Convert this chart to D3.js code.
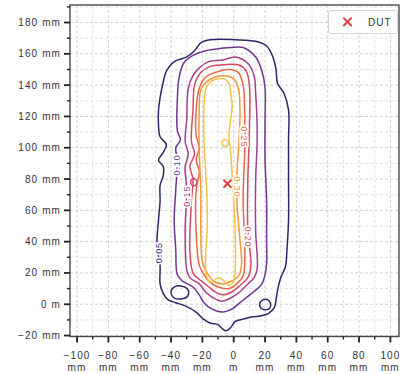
<!DOCTYPE html>
<html>
<head>
<meta charset="utf-8">
<script src="https://cdn.jsdelivr.net/npm/d3@7"></script>
<style>
  html, body { margin: 0; padding: 0; background: #fff; }
  svg { display: block; font-family: "Liberation Sans", Arial, sans-serif; }
</style>
</head>
<body>
<svg id="chart" width="403" height="374"></svg>
<script>
// ---- data (positions in mm) ----
const levels = [0.05, 0.10, 0.15, 0.20, 0.25, 0.30, 0.35];

const xTickValues = [-100, -80, -60, -40, -20, 0, 20, 40, 60, 80, 100];
const xTickLabels = [["−100","mm"],["−80","mm"],["−60","mm"],["−40","mm"],["−20","mm"],
                     ["0","m"],["20","mm"],["40","mm"],["60","mm"],["80","mm"],["100","mm"]];
const yTickValues = [-20, 0, 20, 40, 60, 80, 100, 120, 140, 160, 180];
const yTickLabels = ["−20 mm","0 m","20 mm","40 mm","60 mm","80 mm","100 mm","120 mm","140 mm","160 mm","180 mm"];

const dutPoint = [-4, 77];

// iso-lines of the measured field, one ring per array
const contour005 = [[-47,132],[-45,142],[-43,149],[-38,155],[-30,158],[-25,162],[-21,167],[-15,169],[1,169],[14,168],
  [21,165],[25,158],[27,150],[28,141],[32,135],[35,124],[35,105],[35,79],[35,54],[34,35],[33,24],[30,17],[28,9],[27,3],
  [26,-2],[22,-6],[17,-7.5],[12,-8],[6,-9.5],[1,-11],[-2,-15],[-5,-17],[-8,-15],[-10,-13],[-15,-12],[-20,-9],[-24,-5],
  [-31,-1],[-37,1],[-42,3],[-45,7],[-47,13],[-47,25],[-49,38],[-48,54],[-47,66],[-47,76],[-45,82],[-45,88],[-48,92],
  [-45,97],[-43,102],[-47,107],[-48,114],[-48,124]];
const island005a = [[-40,8],[-38,11],[-33,11.5],[-29,9],[-29.5,5],[-33,3.5],[-38,4]];
const island005b = [[16.5,0],[18,2.5],[21.5,3],[23.5,0.5],[23,-2.5],[20,-3.5],[17.5,-2.5]];

const contour010 = [[-18,162],[-12,163],[-2,164],[6,164],[14,158],[18,149],[20,138],[20,118],[20,92],[21,66],[21,41],
  [21,26],[20,19],[18,13],[14,9],[9,5],[4,1],[-1,-3],[-7,-5],[-14,-3],[-19,1],[-22,6],[-26,11],[-33,15],[-36,19],
  [-37,35],[-38,54],[-37,73],[-36,92],[-37,100],[-34,105],[-36,111],[-36,130],[-35,144],[-32,154],[-26,159]];

const contour015 = [[-7,156],[1,158],[9,154],[13,146],[14,135],[15,108],[14,79],[14,47],[15,23],[13,17],[9,13],[4,8],
  [-2,4],[-8,2],[-13,4],[-18,8],[-22,13],[-28,17],[-30,22],[-31,47],[-30,73],[-31,88],[-29,96],[-31,104],[-30,118],
  [-29,138],[-26,146],[-22,151],[-16,155]];

const contour020 = [[-7,153],[3,153],[8,149],[10,140],[10,111],[9,79],[9,47],[11,25],[9,17],[4,12],[-1,8],[-7,6],[-12,8],
  [-17,12],[-22,16],[-26,20],[-28,35],[-27,66],[-26,80],[-28,88],[-25,96],[-27,104],[-26,124],[-25,140],[-21,148],[-15,152]];
const island020 = [[-27.5,78],[-26.5,80],[-24.5,80],[-23.5,78],[-24.5,76],[-26.5,76]];

const contour025 = [[-12,148],[-3,150],[3,148],[6,140],[7,124],[7,98],[6,66],[7,41],[7,25],[6,18],[2,13],[-3,10],[-10,11],
  [-15,14],[-19,19],[-22,25],[-24,47],[-24,73],[-22,85],[-24,92],[-22,100],[-24,108],[-24,124],[-22,138],[-18,145]];

const contour030 = [[-16,143],[-7,146],[0,144],[3,138],[4,124],[3,98],[2,84],[2,66],[4,41],[5,25],[3,18],[-1,15],[-7,13],
  [-13,15],[-17,20],[-20,27],[-21,47],[-21,73],[-22,98],[-22,124],[-21,137]];

const contour035 = [[-15,142],[-10,144],[-6,144],[-3,141],[-2,135],[-1,127],[-2,118],[-3,108],[-2,98],[-1,82],[0,66],
  [1,41],[1,22],[0,15],[-3,12],[-6,15],[-10,17],[-14,14],[-17,17],[-18,28],[-17,47],[-17,66],[-18,86],[-19,105],
  [-19,124],[-18,137]];
const island035 = [[-7.5,103],[-6.5,105],[-4.5,105],[-3.5,103],[-4.5,101],[-6.5,101]];

// inline level labels: [level index, x, y, rotation]
const labelLevel = [0, 1, 2, 3, 4, 5];
const labelX = [-47.5, -36.5, -30, 9.5, 6.5, 2.5];
const labelY = [33, 89, 69, 43, 107, 75];
const labelRot = [-90, -90, -90, 90, 90, 90];

// ---- style ----
const levelColors = ["#33246a", "#6e3592", "#a53f8c", "#d24a69", "#ec6646", "#f4973c", "#f5c443"];

const ringsByLevel = [
  [contour005, island005a, island005b],
  [contour010],
  [contour015],
  [contour020, island020],
  [contour025],
  [contour030],
  [contour035, island035]
];

const svg = d3.select("#chart");
const plot = { left: 70, right: 399, top: 5, bottom: 336.5 };

const x = d3.scaleLinear().domain([-104.5, 105.5]).range([plot.left, plot.right]);
const y = d3.scaleLinear().domain([-20.6, 191.2]).range([plot.bottom, plot.top]);

svg.append("defs").append("clipPath").attr("id", "clip")
  .append("rect").attr("x", plot.left).attr("y", plot.top)
  .attr("width", plot.right - plot.left).attr("height", plot.bottom - plot.top);

// grid
const grid = svg.append("g").attr("class", "grid");
grid.selectAll("line.gx").data(d3.range(-100, 101, 10)).join("line")
  .attr("x1", d => x(d)).attr("x2", d => x(d))
  .attr("y1", plot.top).attr("y2", plot.bottom)
  .attr("stroke", d => d % 20 === 0 ? "#d2d2d2" : "#e2e2e2")
  .attr("stroke-width", 1).attr("stroke-dasharray", "3,2");
grid.selectAll("line.gy").data(d3.range(-20, 191, 10)).join("line")
  .attr("x1", plot.left).attr("x2", plot.right)
  .attr("y1", d => y(d)).attr("y2", d => y(d))
  .attr("stroke", d => d % 20 === 0 ? "#d2d2d2" : "#e2e2e2")
  .attr("stroke-width", 1).attr("stroke-dasharray", "3,2");

// contour lines
const line = d3.line()
  .x(d => x(d[0])).y(d => y(d[1]))
  .curve(d3.curveCatmullRomClosed.alpha(0.5));

const cg = svg.append("g").attr("clip-path", "url(#clip)");
ringsByLevel.forEach((rings, i) => {
  cg.selectAll(null).data(rings).join("path")
    .attr("d", line)
    .attr("fill", "none")
    .attr("stroke", levelColors[i])
    .attr("stroke-width", 1.5)
    .attr("stroke-linejoin", "round");
});

// contour labels
const fmt = d3.format(".2f");
cg.selectAll("text.clabel").data(labelLevel).join("text")
  .attr("class", "clabel")
  .attr("transform", (d, i) => `translate(${x(labelX[i])},${y(labelY[i])}) rotate(${labelRot[i]})`)
  .attr("text-anchor", "middle")
  .attr("dy", "0.35em")
  .attr("font-size", 9)
  .attr("letter-spacing", 0.9)
  .attr("fill", d => levelColors[d])
  .attr("stroke", "#fff").attr("stroke-width", 3.2)
  .attr("paint-order", "stroke")
  .text(d => fmt(levels[d]));

// DUT marker
function drawCross(g, cx, cy, r) {
  g.append("path")
    .attr("d", `M${cx - r},${cy - r}L${cx + r},${cy + r}M${cx - r},${cy + r}L${cx + r},${cy - r}`)
    .attr("stroke", "#e5383b").attr("stroke-width", 1.8).attr("fill", "none");
}
drawCross(svg.append("g"), x(dutPoint[0]), y(dutPoint[1]), 4);

// frame
svg.append("rect")
  .attr("x", plot.left).attr("y", plot.top)
  .attr("width", plot.right - plot.left).attr("height", plot.bottom - plot.top)
  .attr("fill", "none").attr("stroke", "#4a4a4a").attr("stroke-width", 1.4);

// y axis
const yAxis = svg.append("g").attr("transform", `translate(${plot.left},0)`);
yAxis.selectAll("line.minor").data(d3.range(-10, 191, 20)).join("line")
  .attr("x1", -3).attr("x2", 0).attr("y1", d => y(d)).attr("y2", d => y(d))
  .attr("stroke", "#222").attr("stroke-width", 1.4);
yAxis.selectAll("line.major").data(yTickValues).join("line")
  .attr("x1", -6).attr("x2", 0).attr("y1", d => y(d)).attr("y2", d => y(d))
  .attr("stroke", "#222").attr("stroke-width", 1.8);
yAxis.selectAll("text").data(yTickValues).join("text")
  .attr("x", -9).attr("y", d => y(d)).attr("dy", "0.35em")
  .attr("text-anchor", "end").attr("font-size", 10).attr("letter-spacing", 1.1)
  .attr("fill", "#333")
  .text((d, i) => yTickLabels[i]);

// x axis
const xAxis = svg.append("g").attr("transform", `translate(0,${plot.bottom})`);
xAxis.selectAll("line.minor").data(d3.range(-90, 101, 20)).join("line")
  .attr("x1", d => x(d)).attr("x2", d => x(d)).attr("y1", 0).attr("y2", 3)
  .attr("stroke", "#222").attr("stroke-width", 1.4);
xAxis.selectAll("line.major").data(xTickValues).join("line")
  .attr("x1", d => x(d)).attr("x2", d => x(d)).attr("y1", 0).attr("y2", 6)
  .attr("stroke", "#222").attr("stroke-width", 1.8);
const xt = xAxis.selectAll("text").data(xTickValues).join("text")
  .attr("text-anchor", "middle").attr("font-size", 10).attr("letter-spacing", 1.1)
  .attr("fill", "#333");
xt.append("tspan").attr("x", d => x(d)).attr("y", 22).text((d, i) => xTickLabels[i][0]);
xt.append("tspan").attr("x", d => x(d)).attr("y", 34.5).text((d, i) => xTickLabels[i][1]);

// legend
const lg = svg.append("g");
lg.append("rect").attr("x", 328.5).attr("y", 10.5).attr("width", 69).attr("height", 23).attr("rx", 2.5)
  .attr("fill", "#fff").attr("fill-opacity", 0.9).attr("stroke", "#d4d4d4").attr("stroke-width", 1);
drawCross(lg, 347.5, 21.8, 4.2);
lg.append("text").attr("x", 368).attr("y", 25.5).attr("font-size", 10).attr("letter-spacing", 1)
  .attr("fill", "#333").text("DUT");
</script>
</body>
</html>
